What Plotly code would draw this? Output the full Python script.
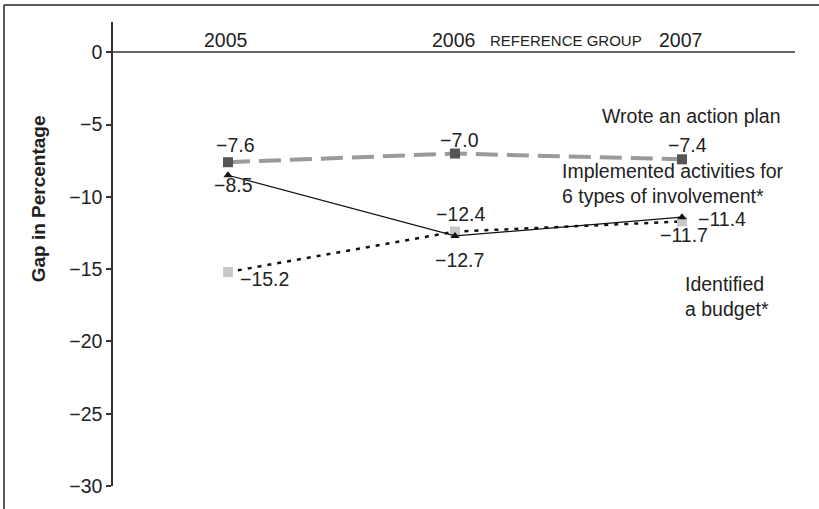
import plotly.graph_objects as go

# Gap in percentage versus the reference group, by year
years = ["2005", "2006", "2007"]
action_plan = [-7.6, -7.0, -7.4]
six_types = [-8.5, -12.7, -11.4]
budget = [-15.2, -12.4, -11.7]

series_names = [
    "Wrote an action plan",
    "Implemented activities for<br>6 types of involvement*",
    "Identified<br>a budget*",
]

xs = list(range(len(years)))
FONT = "Liberation Sans, Arial, Helvetica, sans-serif"
TXT = "#222"
SIZE = 19.5


def fmt(v):
    return f"{v:.1f}".replace("-", "\u2212")


fig = go.Figure()

fig.add_trace(go.Scatter(
    x=xs, y=action_plan, mode="lines+markers",
    line=dict(color="#9a9a9a", width=4, dash="22px,9px"),
    marker=dict(symbol="square", size=10, color="#555555"),
    showlegend=False, hoverinfo="skip",
))
fig.add_trace(go.Scatter(
    x=xs, y=budget, mode="lines+markers",
    line=dict(color="#111111", width=2.5, dash="4px,6px"),
    marker=dict(symbol="square", size=10, color="#c8c8c8"),
    showlegend=False, hoverinfo="skip",
))
fig.add_trace(go.Scatter(
    x=xs, y=six_types, mode="lines+markers",
    line=dict(color="#111111", width=1.2),
    marker=dict(symbol="triangle-up", size=8, color="#111111"),
    showlegend=False, hoverinfo="skip",
))

annotations = []

# value labels, with pixel offsets per point
label_offsets = {
    "action": [(7, 17), (4, 14), (5, 14)],
    "six": [(5, -10), (4, -24), (40, -2)],
    "budget": [(36, -7), (5, 18), (2, -14)],
}
for key, vals in (("action", action_plan), ("six", six_types), ("budget", budget)):
    for i, v in enumerate(vals):
        dx, dy = label_offsets[key][i]
        annotations.append(dict(
            x=xs[i], y=v, text=fmt(v), showarrow=False,
            xanchor="center", yanchor="middle", xshift=dx, yshift=dy,
            font=dict(family=FONT, size=SIZE, color=TXT),
        ))

# series names next to the 2007 points
name_anchor = [action_plan[-1], six_types[-1], budget[-1]]
name_offsets = [(-82, 43), (-122, 34), (1, -75)]
for name, yv, (dx, dy) in zip(series_names, name_anchor, name_offsets):
    annotations.append(dict(
        x=xs[-1], y=yv, text=name, showarrow=False, align="left",
        xanchor="left", yanchor="middle", xshift=dx, yshift=dy,
        font=dict(family=FONT, size=SIZE, color=TXT),
    ))

# year labels above the zero line
for i, yr in enumerate(years):
    annotations.append(dict(
        x=xs[i], y=0, text=yr, showarrow=False,
        xanchor="center", yanchor="middle", xshift=-2, yshift=12,
        font=dict(family=FONT, size=SIZE, color=TXT),
    ))
annotations.append(dict(
    x=1.5, y=0, text="REFERENCE GROUP", showarrow=False,
    xanchor="center", yanchor="middle", xshift=-3, yshift=12,
    font=dict(family=FONT, size=15, color=TXT),
))

# y-axis title
annotations.append(dict(
    xref="paper", yref="paper", x=-0.11, y=0.62, text="<b>Gap in Percentage</b>",
    textangle=-90, showarrow=False, xanchor="center", yanchor="middle",
    font=dict(family=FONT, size=19, color=TXT),
))

# outer frame (top and left edges)
shapes = [
    dict(type="line", xref="paper", yref="paper", x0=-0.1598, x1=1.04, y0=1.0365, y1=1.0365,
         line=dict(color="#222", width=1.5)),
    dict(type="line", xref="paper", yref="paper", x0=-0.1598, x1=-0.1598, y0=1.0365, y1=-0.06,
         line=dict(color="#222", width=1.5)),
]

fig.update_layout(
    width=819, height=509,
    margin=dict(l=113, r=24, t=22, b=21),
    paper_bgcolor="white", plot_bgcolor="white",
    annotations=annotations, shapes=shapes,
    xaxis=dict(range=[-0.5066, 2.4978], visible=False, fixedrange=True),
    yaxis=dict(
        range=[-30, 2.1], tickvals=[0, -5, -10, -15, -20, -25, -30],
        showgrid=False, zeroline=True, zerolinecolor="#666", zerolinewidth=2,
        showline=True, linecolor="#333", linewidth=1.5,
        ticks="outside", ticklen=5, tickcolor="#333", tickwidth=1.5,
        tickfont=dict(family=FONT, size=SIZE, color=TXT), fixedrange=True,
    ),
    font=dict(family=FONT, color=TXT),
)

fig.write_html("out.html")
